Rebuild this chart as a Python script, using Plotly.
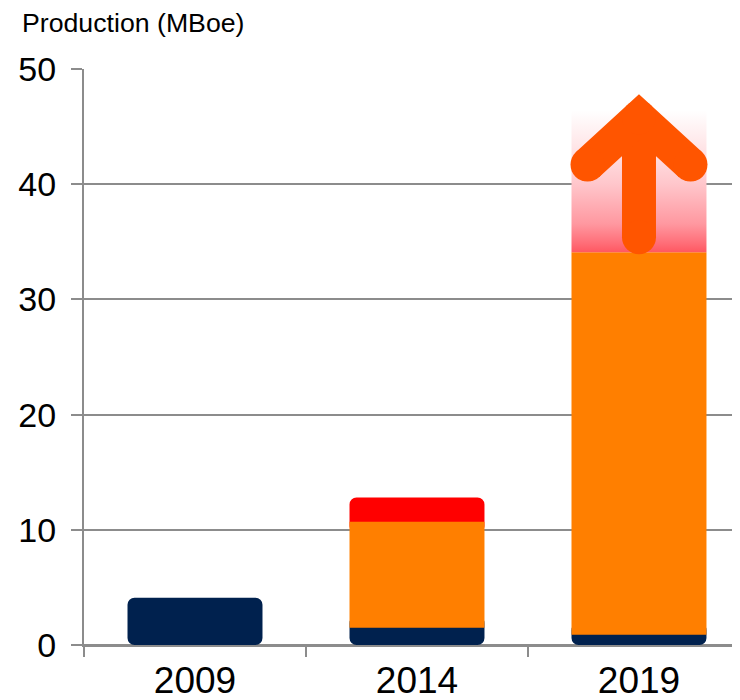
import plotly.graph_objects as go

# ---------------- data ----------------
years = ["2009", "2014", "2019"]
navy_vals = [4.1, 1.5, 0.9]
orange_vals = [0.0, 9.2, 33.2]
red_vals = [0.0, 2.1, 0.0]
# upside potential for 2019 (gradient band) and growth arrow
potential_year_idx = 2
potential_top = 46.4
arrow_y_start = 35.4
arrow_y_tip = 45.8
arrow_y_wing = 41.7
y_ticks = [0, 10, 20, 30, 40, 50]

# ---------------- styles ----------------
NAVY = "#00214E"
ORANGE = "#FF7F00"
RED = "#FF0000"
ARROW = "#FF5500"
GRID = "#8C8C8C"
FONT = "Liberation Sans, Arial, sans-serif"
BAR_W = 0.608
RADIUS = 7
OVERLAP = 1.0  # how far (data units) a rounded end layer tucks under the middle part
ARROW_W = 34
WING_DX = 0.232
PAGE_OFF = 8  # default body margin of the html page

series = [("navy", navy_vals, NAVY), ("orange", orange_vals, ORANGE), ("red", red_vals, RED)]

# Layering so that only the outer ends of each stack are rounded:
#   layer 1: bottom segment colour, rounded, tucked slightly under the middle part
#   layer 2: top segment colour, rounded, tucked slightly under the middle part
#   layer 3: middle segments, square corners, drawn on top
layers = {1: dict(x=[], base=[], y=[], c=[]), 2: dict(x=[], base=[], y=[], c=[]),
          3: dict(x=[], base=[], y=[], c=[])}
for i, yr in enumerate(years):
    segs = []
    cum = 0.0
    for name, vals, col in series:
        v = vals[i]
        if v > 0:
            segs.append((cum, cum + v, col))
            cum += v
    has_cap = (i != potential_year_idx)
    if len(segs) == 1:
        lo, hi, col = segs[0]
        layers[1]["x"].append(i); layers[1]["base"].append(lo)
        layers[1]["y"].append(hi - lo); layers[1]["c"].append(col)
        continue
    bottom = segs[0]
    top = segs[-1] if has_cap else None
    middle = segs[1:-1] if has_cap else segs[1:]
    mid_lo = middle[0][0] if middle else bottom[1]
    mid_hi = middle[-1][1] if middle else bottom[1]
    b_hi = min(mid_hi, bottom[1] + OVERLAP)
    layers[1]["x"].append(i); layers[1]["base"].append(bottom[0])
    layers[1]["y"].append(b_hi - bottom[0]); layers[1]["c"].append(bottom[2])
    if top is not None:
        t_lo = max(mid_lo, top[0] - OVERLAP)
        layers[2]["x"].append(i); layers[2]["base"].append(t_lo)
        layers[2]["y"].append(top[1] - t_lo); layers[2]["c"].append(top[2])
    for lo, hi, col in middle:
        layers[3]["x"].append(i); layers[3]["base"].append(lo)
        layers[3]["y"].append(hi - lo); layers[3]["c"].append(col)

fig = go.Figure()
for k in (1, 2, 3):
    d = layers[k]
    fig.add_trace(go.Bar(
        x=d["x"], y=d["y"], base=d["base"], width=BAR_W,
        marker=dict(color=d["c"], line=dict(width=0),
                    cornerradius=RADIUS if k < 3 else 0),
        hoverinfo="skip", showlegend=False,
    ))

# gradient band (potential) above the 2019 bar
p_lo = navy_vals[potential_year_idx] + orange_vals[potential_year_idx] + red_vals[potential_year_idx]
xc = potential_year_idx
fig.add_trace(go.Scatter(
    x=[xc - BAR_W / 2, xc + BAR_W / 2, xc + BAR_W / 2, xc - BAR_W / 2, xc - BAR_W / 2],
    y=[p_lo, p_lo, potential_top, potential_top, p_lo],
    mode="lines", line=dict(width=0), fill="toself",
    fillgradient=dict(
        type="vertical", start=p_lo, stop=potential_top,
        colorscale=[[0, "rgb(255,88,98)"], [0.08, "rgb(255,115,125)"],
                    [0.2, "rgb(255,152,160)"], [0.48, "rgb(255,198,203)"],
                    [0.75, "rgb(255,230,232)"], [1, "rgb(255,255,255)"]],
    ),
    hoverinfo="skip", showlegend=False,
))

# arrow
fig.add_trace(go.Scatter(
    x=[xc, xc, None, xc - WING_DX, xc, xc + WING_DX],
    y=[arrow_y_start, arrow_y_tip, None, arrow_y_wing, arrow_y_tip, arrow_y_wing],
    mode="lines", line=dict(color=ARROW, width=ARROW_W),
    hoverinfo="skip", showlegend=False,
))
fig.add_trace(go.Scatter(
    x=[xc, xc - WING_DX, xc, xc + WING_DX],
    y=[arrow_y_start, arrow_y_wing, arrow_y_tip, arrow_y_wing],
    mode="markers", marker=dict(color=ARROW, size=ARROW_W, line=dict(width=0)),
    hoverinfo="skip", showlegend=False,
))

W, H = 740 - PAGE_OFF, 700 - PAGE_OFF
L, T, B = 84 - PAGE_OFF, 69 - PAGE_OFF, 700 - 645
PW, PH = W - L, H - T - B

fig.update_layout(
    width=W, height=H,
    margin=dict(l=L, r=0, t=T, b=B, pad=0, autoexpand=False),
    plot_bgcolor="white", paper_bgcolor="white",
    barmode="overlay", showlegend=False,
    font=dict(family=FONT, color="black"),
    annotations=[dict(text="Production (MBoe)", xref="paper", yref="paper",
                      x=(20 - 84) / PW, xanchor="left", y=1 + (69 - 6) / PH, yanchor="top",
                      showarrow=False, font=dict(size=26.7, family=FONT, color="black"))],
)
fig.update_yaxes(
    range=[0, 50], tickmode="array", tickvals=y_ticks, automargin=False,
    showgrid=True, gridcolor=GRID, gridwidth=2,
    zeroline=True, zerolinecolor=GRID, zerolinewidth=2,
    showline=True, linecolor=GRID, linewidth=2,
    ticks="outside", ticklen=11, tickwidth=2, tickcolor=GRID,
    tickfont=dict(size=34, family=FONT, color="black"),
    ticklabelstandoff=8,
)
fig.update_xaxes(
    range=[-0.5, 2.455], tickmode="array", tickvals=list(range(len(years))), ticktext=years,
    showgrid=False, zeroline=False, automargin=False,
    showline=True, linecolor=GRID, linewidth=2,
    ticks="", tickfont=dict(size=37, family=FONT, color="black"),
    ticklabelstandoff=2,
    minor=dict(tickmode="array", tickvals=[-0.5, 0.5, 1.5], ticks="outside",
               ticklen=10, tickwidth=2, tickcolor=GRID, showgrid=False),
)

fig.write_html("out.html")
